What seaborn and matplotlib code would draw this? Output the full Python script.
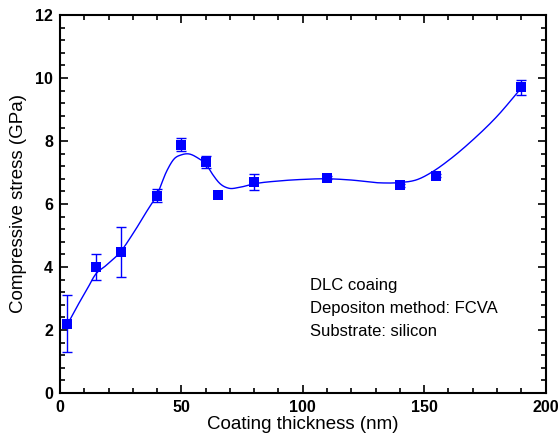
import numpy as np
import pandas as pd
import matplotlib
matplotlib.use("Agg")
import matplotlib.pyplot as plt
import seaborn as sns
from matplotlib.ticker import MultipleLocator

# Measured data
thickness = [3, 15, 25, 40, 50, 60, 65, 80, 110, 140, 155, 190]
stress = [2.2, 4.0, 4.48, 6.26, 7.88, 7.33, 6.28, 6.7, 6.83, 6.6, 6.9, 9.7]
stress_err = [0.9, 0.4, 0.8, 0.2, 0.2, 0.2, 0.0, 0.25, 0.05, 0.05, 0.05, 0.25]

# Fitted trend curve
curve_x = [3, 7, 11, 14.5, 19, 25, 30, 36, 40, 44, 47, 50, 53, 57, 60, 62.5, 66,
           69.5, 74, 80, 90, 100, 110, 120, 132, 140, 147, 154, 160, 170, 180, 190]
curve_y = [2.17, 2.74, 3.27, 3.75, 4.05, 4.49, 5.05, 5.8, 6.3, 7.05, 7.43, 7.56,
           7.59, 7.45, 7.28, 6.98, 6.64, 6.5, 6.53, 6.64, 6.73, 6.78, 6.8, 6.76,
           6.67, 6.68, 6.77, 7.05, 7.38, 8.03, 8.78, 9.68]

notes = ["DLC coaing", "Depositon method: FCVA", "Substrate: silicon"]


def hermite_smooth(xk, yk, n=20):
    xk = np.asarray(xk, float)
    yk = np.asarray(yk, float)
    m = np.gradient(yk, xk)
    xs, ys = [], []
    for i in range(len(xk) - 1):
        h = xk[i + 1] - xk[i]
        t = np.linspace(0, 1, n, endpoint=False)
        h00 = 2 * t**3 - 3 * t**2 + 1
        h10 = t**3 - 2 * t**2 + t
        h01 = -2 * t**3 + 3 * t**2
        h11 = t**3 - t**2
        xs.append(xk[i] + t * h)
        ys.append(h00 * yk[i] + h10 * h * m[i] + h01 * yk[i + 1] + h11 * h * m[i + 1])
    xs.append([xk[-1]])
    ys.append([yk[-1]])
    return np.concatenate(xs), np.concatenate(ys)


sns.set_style("ticks")
plt.rcParams["font.family"] = ["Liberation Sans", "DejaVu Sans"]
plt.rcParams["text.color"] = "black"
plt.rcParams["axes.labelcolor"] = "black"
plt.rcParams["xtick.color"] = "black"
plt.rcParams["ytick.color"] = "black"

fig = plt.figure(figsize=(5.59, 4.43), dpi=100)
ax = fig.add_axes([0.1073, 0.1129, 0.8686, 0.8533])

blue = "#0000FF"
sx, sy = hermite_smooth(curve_x, curve_y)
curve_df = pd.DataFrame({"x": sx, "y": sy})
sns.lineplot(data=curve_df, x="x", y="y", ax=ax, color=blue, lw=1.0, sort=False,
             estimator=None)

df = pd.DataFrame({"x": thickness, "y": stress, "e": stress_err})
err_df = df[df["e"] > 0]
ax.errorbar(err_df["x"], err_df["y"], yerr=err_df["e"], fmt="none", ecolor=blue,
            elinewidth=1.0, capsize=3.5, capthick=1.0, zorder=3)
sns.scatterplot(data=df, x="x", y="y", ax=ax, marker="s", s=52, color=blue,
                edgecolor=blue, linewidth=0, zorder=4)

ax.set_xlim(0, 200)
ax.set_ylim(0, 12)
ax.xaxis.set_major_locator(MultipleLocator(50))
ax.xaxis.set_minor_locator(MultipleLocator(10))
ax.yaxis.set_major_locator(MultipleLocator(2))
ax.yaxis.set_minor_locator(MultipleLocator(0.4))
ax.tick_params(which="both", direction="in", top=True, right=True, width=1.2,
               colors="black")
ax.tick_params(which="major", length=6, labelsize=11.5, pad=5)
ax.tick_params(which="minor", length=3.5)
for lab in ax.get_xticklabels() + ax.get_yticklabels():
    lab.set_fontweight("bold")
for sp in ax.spines.values():
    sp.set_linewidth(1.5)
    sp.set_color("black")

ax.set_xlabel("Coating thickness (nm)", fontsize=13.5, labelpad=1, color="black")
ax.set_ylabel("Compressive stress (GPa)", fontsize=13.5, labelpad=6, color="black")

for i, t in enumerate(notes):
    ax.text(0.514, 0.285 - i * 0.061, t, transform=ax.transAxes, fontsize=12,
            va="center", ha="left", color="black")

fig.savefig("out.png", dpi=100)
